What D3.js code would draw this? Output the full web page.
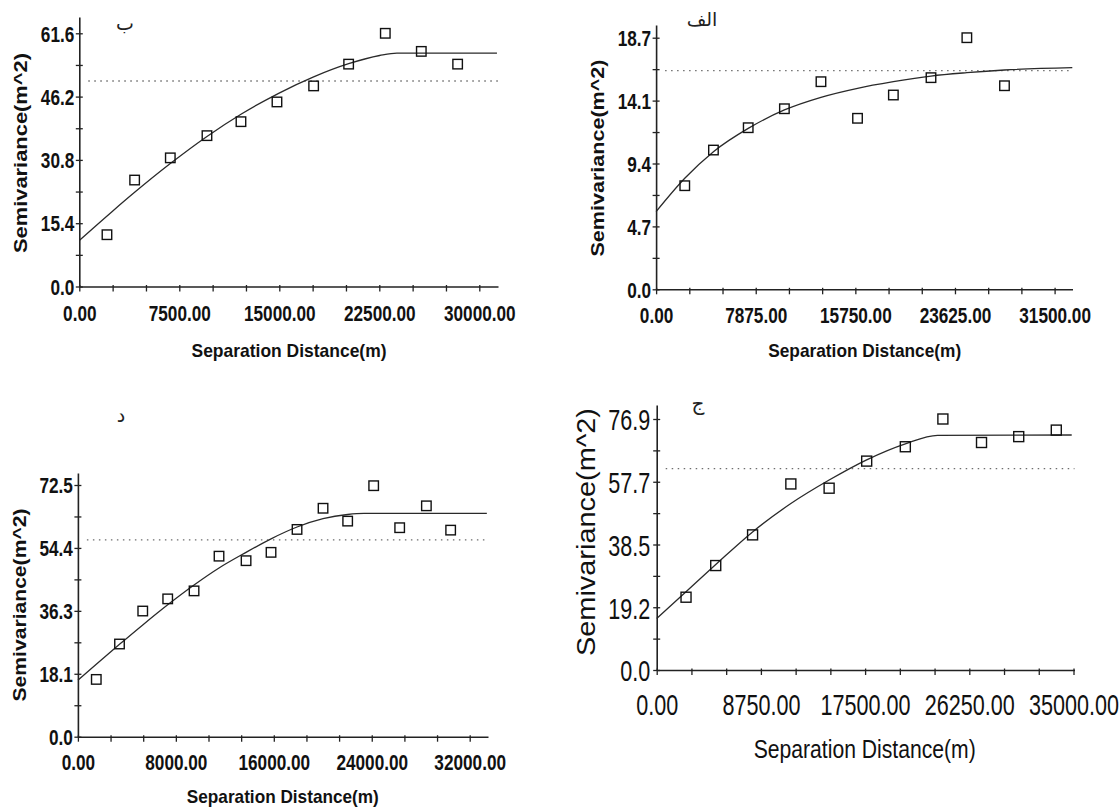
<!DOCTYPE html>
<html>
<head>
<meta charset="utf-8">
<script src="https://cdn.jsdelivr.net/npm/d3@7/dist/d3.min.js"></script>
<style>
  body { margin: 0; background: #fff; }
  svg { display: block; }
</style>
</head>
<body>
<svg id="chart" width="1119" height="807"></svg>
<script>
// ---- data ----

// panel ب (top left)
const lagB = [2075, 4150, 6825, 9575, 12125, 14825, 17575, 20200, 22950, 25650, 28375];
const gammaB = [12.6, 25.9, 31.3, 36.7, 40.1, 44.9, 48.8, 54.1, 61.6, 57.2, 54.1];
const modelLagB = [0, 2450, 4150, 6825, 9575, 12125, 14950, 17575, 20200, 22525, 23825, 31325];
const modelGammaB = [11.2, 18.2, 22.9, 29.9, 36.5, 41.9, 47.0, 51.0, 54.2, 56.2, 56.8, 56.8];
const sillB = 50.0;
const xTicksB = [0, 7500, 15000, 22500, 30000];
const xLabelsB = ['0.00', '7500.00', '15000.00', '22500.00', '30000.00'];
const yTicksB = [0, 15.4, 30.8, 46.2, 61.6];
const yLabelsB = ['0.0', '15.4', '30.8', '46.2', '61.6'];

// panel الف (top right)
const lagA = [2266, 4533, 7281, 10142, 13032, 15922, 18755, 21730, 24564, 27538];
const gammaA = [7.70, 10.35, 12.01, 13.42, 15.43, 12.71, 14.44, 15.73, 18.70, 15.13];
const modelLagA = [0, 2266, 4533, 7281, 10142, 13032, 15922, 18755, 21730, 24564, 27538, 32900];
const modelGammaA = [5.77, 8.25, 10.23, 11.96, 13.33, 14.27, 14.94, 15.43, 15.85, 16.10, 16.30, 16.47];
const sillA = 16.25;
const xTicksA = [0, 7875, 15750, 23625, 31500];
const xLabelsA = ['0.00', '7875.00', '15750.00', '23625.00', '31500.00'];
const yTicksA = [0, 4.675, 9.35, 14.025, 18.7];
const yLabelsA = ['0.0', '4.7', '9.4', '14.1', '18.7'];

// panel د (bottom left)
const lagD = [1501, 3398, 5296, 7335, 9487, 11526, 13735, 15774, 17898, 20022, 22033, 24157, 26281, 28462, 30444];
const gammaD = [16.5, 26.7, 36.2, 39.7, 42.0, 52.0, 50.7, 53.1, 59.7, 65.8, 62.1, 72.3, 60.2, 66.5, 59.5];
const modelLagD = [0, 1501, 3398, 5296, 7335, 9487, 11526, 13735, 15774, 17898, 20022, 22033, 23364, 33400];
const modelGammaD = [16.3, 20.9, 26.6, 32.2, 38.0, 43.7, 48.6, 53.1, 57.0, 60.4, 62.8, 64.0, 64.3, 64.3];
const sillD = 56.7;
const xTicksD = [0, 8000, 16000, 24000, 32000];
const xLabelsD = ['0.00', '8000.00', '16000.00', '24000.00', '32000.00'];
const yTicksD = [0, 18.125, 36.25, 54.375, 72.5];
const yLabelsD = ['0.0', '18.1', '36.3', '54.4', '72.5'];

// panel ج (bottom right)
const lagJ = [2463, 4957, 8051, 11265, 14479, 17633, 20878, 24032, 27276, 30400, 33555];
const gammaJ = [22.3, 32.0, 41.4, 57.0, 55.7, 64.0, 68.4, 76.9, 69.7, 71.5, 73.5];
const modelLagJ = [0, 2463, 4957, 8051, 11265, 14479, 17633, 20878, 23582, 34850];
const modelGammaJ = [15.8, 24.0, 32.3, 42.3, 51.0, 58.2, 64.4, 69.3, 71.9, 72.0];
const sillJ = 61.7;
const xTicksJ = [0, 8750, 17500, 26250, 35000];
const xLabelsJ = ['0.00', '8750.00', '17500.00', '26250.00', '35000.00'];
const yTicksJ = [0, 19.225, 38.45, 57.675, 76.9];
const yLabelsJ = ['0.0', '19.2', '38.5', '57.7', '76.9'];

const X_TITLE = 'Separation Distance(m)';
const Y_TITLE = 'Semivariance(m^2)';

// ---- layout: pixel frame of each panel ----
const panels = [
  {
    title: 'ب', lag: lagB, gamma: gammaB, mLag: modelLagB, mGamma: modelGammaB, sill: sillB,
    xTicks: xTicksB, xLabels: xLabelsB, yTicks: yTicksB, yLabels: yLabelsB,
    x0: 79.3, xRefPx: 479.3, xEndPx: 498, y0: 286.5, yRefPx: 33.3, yTopPx: 17,
    font: { size: 21.5, weight: 'bold', sx: 0.8, xOff: 34.5, yGap: 5 },
    titlePos: [125, 30], yTitle: [20, 153, 200], xTitle: [289, 357, 195], titleSize: 19,
    sq: 9.5
  },
  {
    title: 'الف', lag: lagA, gamma: gammaA, mLag: modelLagA, mGamma: modelGammaA, sill: sillA,
    xTicks: xTicksA, xLabels: xLabelsA, yTicks: yTicksA, yLabels: yLabelsA,
    x0: 656.1, xRefPx: 1054.6, xEndPx: 1072.5, y0: 289.3, yRefPx: 37.7, yTopPx: 25,
    font: { size: 21.5, weight: 'bold', sx: 0.8, xOff: 33.7, yGap: 5 },
    titlePos: [702, 26], yTitle: [597.6, 158, 197], xTitle: [864.7, 357, 193], titleSize: 19,
    sq: 9.5
  },
  {
    title: 'د', lag: lagD, gamma: gammaD, mLag: modelLagD, mGamma: modelGammaD, sill: sillD,
    xTicks: xTicksD, xLabels: xLabelsD, yTicks: yTicksD, yLabels: yLabelsD,
    x0: 77.9, xRefPx: 469.7, xEndPx: 488, y0: 736.7, yRefPx: 485, yTopPx: 473,
    font: { size: 21.5, weight: 'bold', sx: 0.8, xOff: 33.3, yGap: 5 },
    titlePos: [121, 422], yTitle: [19, 605, 193], xTitle: [282.8, 803, 192], titleSize: 19,
    sq: 9.5
  },
  {
    title: 'ج', lag: lagJ, gamma: gammaJ, mLag: modelLagJ, mGamma: modelGammaJ, sill: sillJ,
    xTicks: xTicksJ, xLabels: xLabelsJ, yTicks: yTicksJ, yLabels: yLabelsJ,
    x0: 656.7, xRefPx: 1073.5, xEndPx: 1074.5, y0: 670, yRefPx: 419, yTopPx: 405,
    font: { size: 30, weight: 'normal', sx: 0.72, xOff: 45, yGap: 6.5 },
    titlePos: [698, 410], yTitle: [585.8, 532, 248], xTitle: [864.7, 758, 222], titleSize: 20,
    sq: 10, plain: true
  }
];

const svg = d3.select('#chart');
const FONT = "'Liberation Sans', Arial, sans-serif";

panels.forEach(p => {
  const xRef = p.xTicks[p.xTicks.length - 1];
  const yRef = p.yTicks[p.yTicks.length - 1];
  const xMax = xRef * (p.xEndPx - p.x0) / (p.xRefPx - p.x0);
  const yMax = yRef * (p.y0 - p.yTopPx) / (p.y0 - p.yRefPx);

  const x = d3.scaleLinear().domain([0, xMax]).range([p.x0, p.xEndPx]);
  const y = d3.scaleLinear().domain([0, yMax]).range([p.y0, p.yTopPx]);

  // minor ticks: three per labelled x step, two per labelled y step
  const xMinor = d3.range(0, 13).map(i => i * xRef / 12);
  const yMinor = d3.range(0, 9).map(i => i * yRef / 8);

  const g = svg.append('g');

  // sill (dotted)
  g.append('line')
    .attr('x1', p.x0 + 9).attr('x2', p.xEndPx)
    .attr('y1', y(p.sill)).attr('y2', y(p.sill))
    .attr('stroke', '#6e6e6e').attr('stroke-width', 1.3)
    .attr('stroke-dasharray', '1.5 4.5');

  // fitted model
  const line = d3.line().x(d => x(d[0])).y(d => y(d[1])).curve(d3.curveMonotoneX);
  g.append('path')
    .datum(d3.zip(p.mLag, p.mGamma))
    .attr('d', line)
    .attr('fill', 'none').attr('stroke', '#2a2a2a').attr('stroke-width', 1.3);

  // experimental semivariance
  g.selectAll('rect.pt')
    .data(d3.zip(p.lag, p.gamma))
    .join('rect')
    .attr('class', 'pt')
    .attr('x', d => x(d[0]) - p.sq / 2)
    .attr('y', d => y(d[1]) - p.sq / 2)
    .attr('width', p.sq).attr('height', p.sq)
    .attr('fill', 'none').attr('stroke', '#111').attr('stroke-width', 1.4);

  // x axis: minor ticks then labels
  const xAxisG = g.append('g').attr('transform', `translate(0,${p.y0})`);
  xAxisG.call(d3.axisBottom(x).tickValues(xMinor).tickSize(5).tickSizeOuter(0).tickFormat(''));
  xAxisG.selectAll('.tick line').attr('y1', -1.5);
  const xLab = g.append('g').attr('transform', `translate(0,${p.y0})`)
    .call(d3.axisBottom(x).tickValues(p.xTicks).tickSize(0).tickFormat((d, i) => p.xLabels[i]));
  xLab.select('.domain').remove();
  xLab.selectAll('text')
    .attr('y', p.font.xOff).attr('dy', null)
    .attr('transform', `scale(${p.font.sx},1)`);

  // y axis
  const yAxisG = g.append('g').attr('transform', `translate(${p.x0},0)`);
  yAxisG.call(d3.axisLeft(y).tickValues(yMinor).tickSize(3.5).tickSizeOuter(0).tickFormat(''));
  yAxisG.selectAll('.tick line').attr('x1', 3.5);
  const yLab = g.append('g').attr('transform', `translate(${p.x0},0)`)
    .call(d3.axisLeft(y).tickValues(p.yTicks).tickSize(0).tickFormat((d, i) => p.yLabels[i]));
  yLab.select('.domain').remove();
  yLab.selectAll('text')
    .attr('x', -p.font.yGap / p.font.sx).attr('dy', '0.36em')
    .attr('transform', `scale(${p.font.sx},1)`);

  [xAxisG, yAxisG].forEach(a => {
    a.select('.domain').attr('stroke', '#222').attr('stroke-width', 1.6);
    a.selectAll('.tick line').attr('stroke', '#222').attr('stroke-width', 1.3);
  });
  g.selectAll('.tick text')
    .attr('fill', '#111')
    .style('font-family', FONT)
    .style('font-size', p.font.size + 'px')
    .style('font-weight', p.font.weight);

  // titles
  const tw = p.plain ? 'normal' : 'bold';
  const tSize = p.plain ? 25 : 18.5;
  g.append('text')
    .attr('x', p.xTitle[0]).attr('y', p.xTitle[1])
    .attr('text-anchor', 'middle')
    .attr('textLength', p.xTitle[2]).attr('lengthAdjust', 'spacingAndGlyphs')
    .style('font-family', FONT).style('font-size', tSize + 'px').style('font-weight', tw)
    .attr('fill', '#111')
    .text(X_TITLE);

  g.append('text')
    .attr('transform', `translate(${p.yTitle[0]},${p.yTitle[1]}) rotate(-90)`)
    .attr('text-anchor', 'middle').attr('dominant-baseline', 'central')
    .attr('textLength', p.yTitle[2]).attr('lengthAdjust', 'spacingAndGlyphs')
    .style('font-family', FONT).style('font-size', (p.plain ? 26 : 18.5) + 'px').style('font-weight', tw)
    .attr('fill', '#111')
    .text(Y_TITLE);

  g.append('text')
    .attr('x', p.titlePos[0]).attr('y', p.titlePos[1])
    .attr('text-anchor', 'middle')
    .style('font-family', "'DejaVu Sans', 'Noto Sans', sans-serif")
    .style('font-size', p.titleSize + 'px')
    .attr('fill', '#222')
    .text(p.title);
});
</script>
</body>
</html>
